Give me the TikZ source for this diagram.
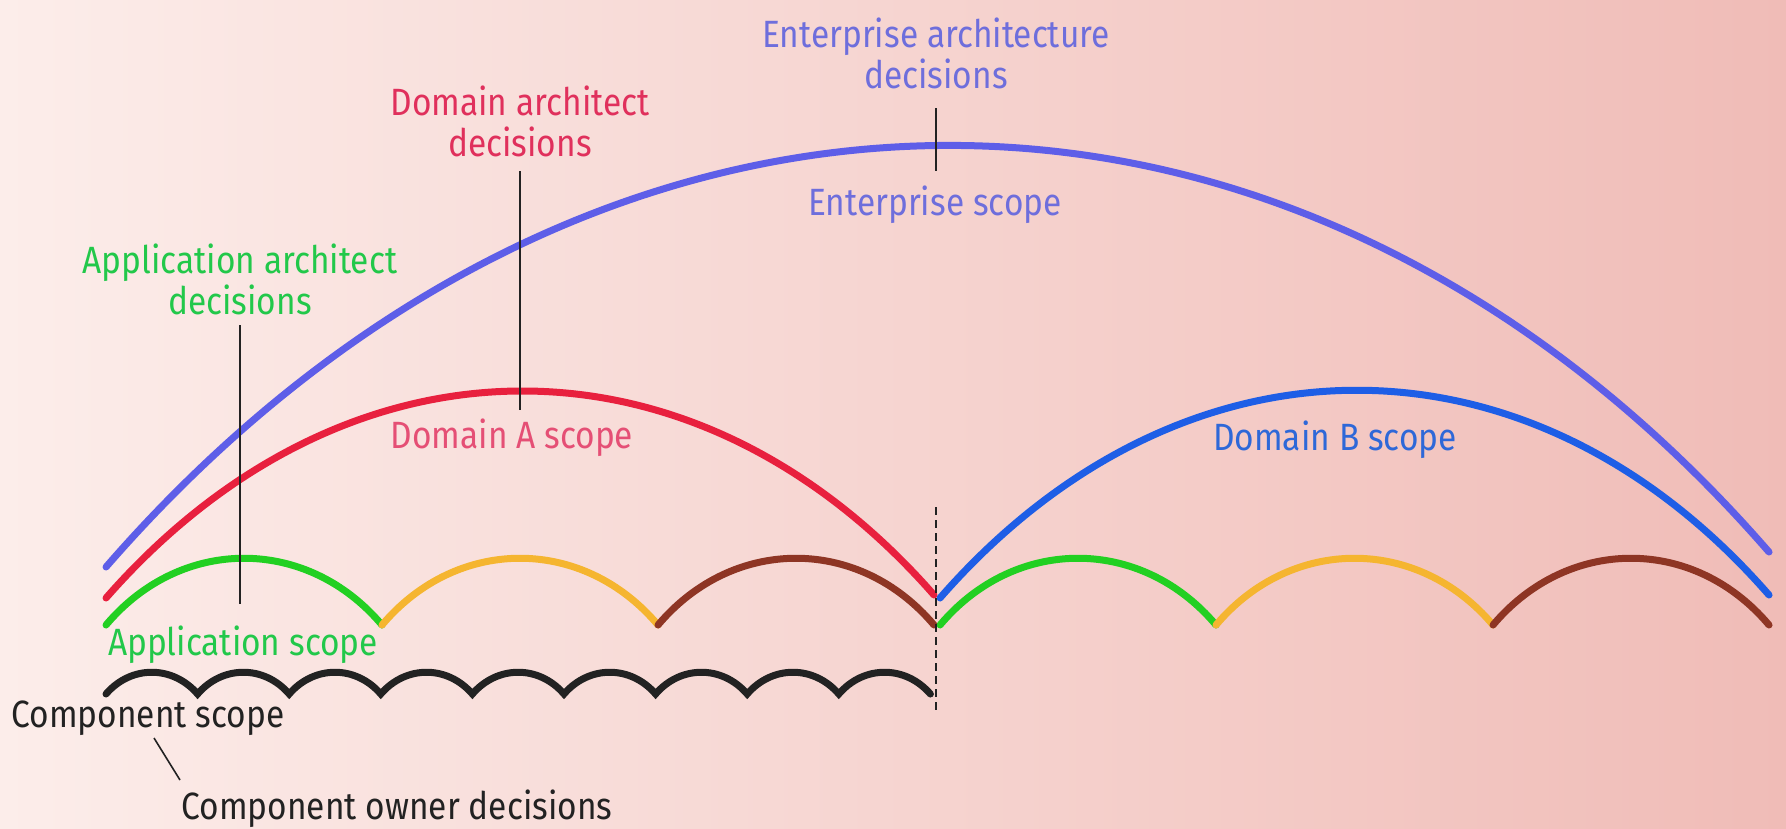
\documentclass[tikz,border=0pt]{standalone}
\usepackage{fontspec}
\setmainfont{Fira Sans}[FakeStretch=0.88]
\usetikzlibrary{calc}
\definecolor{bgL}{HTML}{FCEDEA}
\definecolor{bgR}{HTML}{F0BCB7}
\definecolor{entarc}{HTML}{5E5EE8}
\definecolor{entcol}{HTML}{6E6EDC}
\definecolor{redarc}{HTML}{E8203E}
\definecolor{redcol}{HTML}{E0305C}
\definecolor{bluearc}{HTML}{1E5EE6}
\definecolor{bluecol}{HTML}{2E68D8}
\definecolor{grnarc}{HTML}{22D022}
\definecolor{grncol}{HTML}{22C84A}
\definecolor{orgarc}{HTML}{F5B530}
\definecolor{brnarc}{HTML}{8E3524}
\definecolor{txtblk}{HTML}{222222}
\begin{document}
\begin{tikzpicture}[x=1pt,y=-1pt,
  arcline/.style={line width=7pt,line cap=round},
  compline/.style={line width=7pt,line cap=round,line join=miter,txtblk},
  leader/.style={line width=1.6pt,txtblk},
  lbl/.style={font=\fontsize{38}{41}\selectfont,align=center,inner sep=0pt}]
\shade[left color=bgL,right color=bgR] (0,0) rectangle (1786,828);
\useasboundingbox (0,0) rectangle (1786,828);

% coordinates
\coordinate (E1) at (106,567); \coordinate (E2) at (1769,552);
\coordinate (DA1) at (106,598); \coordinate (DA2) at (934,595);
\coordinate (DB1) at (940,598); \coordinate (DB2) at (1769,595);
\foreach \i/\x in {0/106,1/382,2/658,3/934} \coordinate (L\i) at (\x,625);
\foreach \i/\x in {0/940,1/1216,2/1493,3/1769} \coordinate (R\i) at (\x,625);
\foreach \i in {0,...,9} \coordinate (C\i) at ({106+91.6*\i},694);
\coordinate (Dtop) at (936,507); \coordinate (Dbot) at (936,712);

% big arcs
\draw[arcline,entarc] (E1) .. controls ($(E1)+(480,-552)$) and ($(E2)+(-480,-552)$) .. (E2);
\draw[arcline,redarc] (DA1) .. controls ($(DA1)+(240,-274)$) and ($(DA2)+(-240,-274)$) .. (DA2);
\draw[arcline,bluearc] (DB1) .. controls ($(DB1)+(240,-275)$) and ($(DB2)+(-240,-275)$) .. (DB2);

% application arcs
\foreach \a/\b/\c in {L0/L1/grnarc,L1/L2/orgarc,L2/L3/brnarc,R0/R1/grnarc,R1/R2/orgarc,R2/R3/brnarc}
  \draw[arcline,\c] (\a) .. controls ($(\a)+(75,-89)$) and ($(\b)+(-75,-89)$) .. (\b);

% component arcs
\draw[compline] (C0) \foreach \i [count=\j from 1] in {0,...,8} { .. controls ($(C\i)+(25,-29)$) and ($(C\j)+(-25,-29)$) .. (C\j) };

% dashed separator
\draw[txtblk,line width=2pt,dash pattern=on 8pt off 5pt] (Dtop) -- (Dbot);

% labels
\node[lbl,entcol] (ent) at (936,53) {Enterprise architecture\\decisions};
\node[lbl,redcol] (dom) at (520,121) {Domain architect\\decisions};
\node[lbl,grncol] (app) at (240,279) {Application architect\\decisions};
\node[lbl,entcol] (entscope) at (935,205) {Enterprise scope};
\node[lbl,redcol!85!white] (dascope) at (512,438) {Domain A scope};
\node[lbl,bluecol] (dbscope) at (1335,440) {Domain B scope};
\node[lbl,grncol] (appscope) at (243,645) {Application scope};
\node[lbl,txtblk] (compscope) at (148,718) {Component scope};
\node[lbl,txtblk] (compown) at (397,809) {Component owner decisions};

% leaders
\coordinate (entB) at (936,171);
\coordinate (domB) at (520,410);
\coordinate (appB) at (240,604);
\coordinate (cmpA) at (154,738);
\coordinate (cmpB) at (180,780);
\draw[leader] (ent.south |- 0,108) -- (entB);
\draw[leader] (dom.south |- 0,171) -- (domB);
\draw[leader] (app.south |- 0,325) -- (appB);
\draw[leader] (cmpA) -- (cmpB);
\end{tikzpicture}
\end{document}
